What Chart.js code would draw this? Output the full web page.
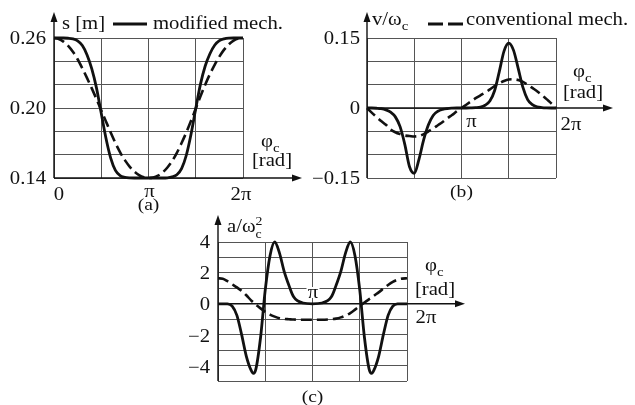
<!DOCTYPE html>
<html>
<head>
<meta charset="utf-8">
<script src="https://cdn.jsdelivr.net/npm/chart.js@4.4.1/dist/chart.umd.min.js"></script>
<style>
  html, body { margin: 0; background: #fff; }
  #wrap { position: relative; width: 635px; height: 405px; }
  canvas { position: absolute; left: 0; top: 0; }
</style>
</head>
<body>
<div id="wrap">
  <canvas id="chart-a" width="635" height="405"></canvas>
  <canvas id="chart-b" width="635" height="405"></canvas>
  <canvas id="chart-c" width="635" height="405"></canvas>
</div>
<script>
// crank angle phi_c, in units of pi
const PHI = [0, 0.05, 0.1, 0.15, 0.2, 0.25, 0.3, 0.35, 0.4, 0.45, 0.5, 0.55, 0.6, 0.65, 0.7, 0.75, 0.8, 0.85, 0.9, 0.95, 1,
             1.05, 1.1, 1.15, 1.2, 1.25, 1.3, 1.35, 1.4, 1.45, 1.5, 1.55, 1.6, 1.65, 1.7, 1.75, 1.8, 1.85, 1.9, 1.95, 2];

// (a) slider position s [m]
const S_MODIFIED = [0.26, 0.26, 0.26, 0.2598, 0.2592, 0.2575, 0.2535, 0.2455, 0.2335, 0.2170, 0.1955, 0.1740, 0.1570, 0.1465, 0.1420, 0.1406, 0.1401, 0.14, 0.14, 0.14, 0.14,
                    0.14, 0.14, 0.14, 0.1402, 0.1410, 0.1428, 0.1480, 0.1595, 0.1775, 0.1995, 0.2205, 0.2360, 0.2465, 0.2538, 0.2577, 0.2593, 0.2599, 0.26, 0.26, 0.26];
const S_CONVENTIONAL = [0.2600, 0.2592, 0.2569, 0.2532, 0.2482, 0.2418, 0.2340, 0.2256, 0.2168, 0.2076, 0.1980, 0.1885, 0.1790, 0.1700, 0.1620, 0.1553, 0.1498, 0.1456, 0.1425, 0.1406, 0.1400,
                        0.1405, 0.1420, 0.1448, 0.1490, 0.1545, 0.1615, 0.1700, 0.1790, 0.1890, 0.1995, 0.2100, 0.2200, 0.2290, 0.2370, 0.2440, 0.2500, 0.2545, 0.2577, 0.2595, 0.2600];

// (b) v / omega_c
const V_MODIFIED = [0, 0, -0.0005, -0.0015, -0.004, -0.009, -0.019, -0.040, -0.078, -0.126, -0.140, -0.110, -0.068, -0.036, -0.016, -0.007, -0.003, -0.0012, -0.0004, 0, 0,
                    0, 0.0003, 0.0008, 0.002, 0.006, 0.015, 0.037, 0.078, 0.122, 0.139, 0.124, 0.085, 0.044, 0.018, 0.007, 0.0025, 0.001, 0.0003, 0, 0];
const V_CONVENTIONAL = [0, -0.010, -0.019, -0.028, -0.036, -0.046, -0.052, -0.056, -0.059, -0.060, -0.061, -0.060, -0.056, -0.050, -0.044, -0.037, -0.030, -0.022, -0.015, -0.007, 0,
                        0.007, 0.014, 0.021, 0.027, 0.033, 0.040, 0.047, 0.053, 0.058, 0.061, 0.0615, 0.060, 0.056, 0.050, 0.043, 0.036, 0.028, 0.019, 0.010, 0];

// (c) a / omega_c^2, sampled a bit denser around the peaks
const PHI_ACC = [0, 0.05, 0.1, 0.15, 0.2, 0.25, 0.3, 0.35, 0.375, 0.4, 0.45, 0.5, 0.55, 0.6, 0.65, 0.7, 0.75, 0.8, 0.9, 1,
                 1.1, 1.2, 1.25, 1.3, 1.35, 1.4, 1.45, 1.5, 1.55, 1.6, 1.625, 1.65, 1.7, 1.75, 1.8, 1.85, 1.9, 1.95, 2];
const A_MODIFIED = [0, 0, 0, -0.15, -0.75, -2.0, -3.4, -4.3, -4.5, -4.25, -2.2, 0.9, 3.1, 4.0, 3.3, 2.1, 1.2, 0.45, 0.05, 0,
                    0.05, 0.45, 1.2, 2.1, 3.3, 4.0, 3.1, 0.9, -2.2, -4.25, -4.5, -4.3, -3.4, -2.0, -0.75, -0.15, 0, 0, 0];
const A_CONVENTIONAL = [1.65, 1.62, 1.46, 1.26, 1.06, 0.84, 0.55, 0.22, 0.08, -0.06, -0.30, -0.52, -0.70, -0.83, -0.93, -0.98, -1.0, -1.02, -1.03, -1.03,
                        -1.03, -1.0, -0.96, -0.88, -0.76, -0.60, -0.38, -0.14, 0.08, 0.30, 0.40, 0.52, 0.74, 0.98, 1.22, 1.42, 1.56, 1.63, 1.65];

const W = 635, H = 405;
const FONT = '"Liberation Serif", "Times New Roman", serif';
const SX = 1.15; // the scan is a little wider than tall
const INK = '#111';
const GRID = '#555';

function txt(ctx, s, x, y, align = 'left', size = 18) {
    ctx.save();
    ctx.font = size + 'px ' + FONT;
    ctx.fillStyle = INK;
    ctx.textAlign = align;
    ctx.textBaseline = 'alphabetic';
    ctx.translate(x, y);
    ctx.scale(SX, 1);
    ctx.fillText(s, 0, 0);
    const w = ctx.measureText(s).width * SX;
    ctx.restore();
    return w;
}

function arrow(ctx, x1, y1, x2, y2) {
    const ang = Math.atan2(y2 - y1, x2 - x1);
    ctx.save();
    ctx.strokeStyle = INK;
    ctx.fillStyle = INK;
    ctx.lineWidth = 1.4;
    ctx.beginPath();
    ctx.moveTo(x1, y1);
    ctx.lineTo(x2 - 8 * Math.cos(ang), y2 - 8 * Math.sin(ang));
    ctx.stroke();
    ctx.translate(x2, y2);
    ctx.rotate(ang);
    ctx.beginPath();
    ctx.moveTo(0, 0);
    ctx.lineTo(-10, -3.5);
    ctx.lineTo(-10, 3.5);
    ctx.closePath();
    ctx.fill();
    ctx.restore();
}

function legendLine(ctx, x1, x2, y, dash) {
    ctx.save();
    ctx.strokeStyle = INK;
    ctx.lineWidth = 2.8;
    ctx.setLineDash(dash);
    ctx.beginPath();
    ctx.moveTo(x1, y);
    ctx.lineTo(x2, y);
    ctx.stroke();
    ctx.restore();
}

// phi_c with subscript c
function phiLabel(ctx, x, y) {
    const w = txt(ctx, 'φ', x, y);
    txt(ctx, 'c', x + w, y + 5, 'left', 13);
}

function points(xs, ys) {
    return xs.map((x, i) => ({x: x, y: ys[i]}));
}

function makeChart(id, area, y, datasets, decorate) {
    return new Chart(document.getElementById(id), {
        type: 'line',
        data: {datasets: datasets},
        options: {
            responsive: false,
            animation: false,
            devicePixelRatio: 1,
            layout: {
                padding: {left: area.l, top: area.t, right: W - area.r, bottom: H - area.b}
            },
            elements: {point: {radius: 0}},
            plugins: {legend: {display: false}, tooltip: {enabled: false}},
            scales: {
                x: {
                    type: 'linear', min: 0, max: 2,
                    ticks: {display: false, stepSize: 0.5},
                    grid: {color: GRID, lineWidth: 1, drawTicks: false},
                    border: {display: false},
                    afterFit: s => { s.height = 0; }
                },
                y: {
                    type: 'linear', min: y.min, max: y.max,
                    ticks: {display: false, stepSize: y.step},
                    grid: {color: GRID, lineWidth: 1, drawTicks: false},
                    border: {display: false},
                    afterFit: s => { s.width = 0; }
                }
            }
        },
        plugins: [{id: 'decor-' + id, afterDraw: chart => decorate(chart, chart.ctx, chart.scales.x, chart.scales.y)}]
    });
}

function solid(data) {
    return {data: data, borderColor: INK, borderWidth: 2.8, cubicInterpolationMode: 'monotone', clip: false};
}

function dashed(data) {
    return {data: data, borderColor: INK, borderWidth: 2.6, borderDash: [11, 5], cubicInterpolationMode: 'monotone', clip: false};
}

// (a) displacement
makeChart('chart-a', {l: 54, t: 38, r: 243, b: 178}, {min: 0.14, max: 0.26, step: 0.02},
    [solid(points(PHI, S_MODIFIED)), dashed(points(PHI, S_CONVENTIONAL))],
    (chart, ctx, x, y) => {
        const x0 = x.getPixelForValue(0);
        const yb = y.getPixelForValue(0.14);
        arrow(ctx, x0, yb, 302, yb);
        arrow(ctx, x0, yb, x0, 12);
        for (const v of [0.26, 0.20, 0.14]) {
            txt(ctx, v.toFixed(2), x0 - 8, y.getPixelForValue(v) + 6, 'right');
        }
        txt(ctx, '0', x0 + 5, 200, 'center');
        txt(ctx, 'π', x.getPixelForValue(1) + 1, 197, 'center');
        txt(ctx, '2π', x.getPixelForValue(2) - 2, 200, 'center');
        txt(ctx, '(a)', x.getPixelForValue(1), 210, 'center', 17);
        txt(ctx, 's [m]', 62, 29);
        legendLine(ctx, 113, 147, 24, []);
        txt(ctx, 'modified mech.', 153, 29);
        phiLabel(ctx, 261, 147);
        txt(ctx, '[rad]', 272, 166, 'center');
    });

// (b) velocity
makeChart('chart-b', {l: 367, t: 38, r: 556, b: 178}, {min: -0.15, max: 0.15, step: 0.05},
    [solid(points(PHI, V_MODIFIED)), dashed(points(PHI, V_CONVENTIONAL))],
    (chart, ctx, x, y) => {
        const x0 = x.getPixelForValue(0);
        const y0 = y.getPixelForValue(0);
        arrow(ctx, x0, y0, 613, y0);
        arrow(ctx, x0, chart.chartArea.bottom, x0, 12);
        txt(ctx, '0.15', x0 - 7, y.getPixelForValue(0.15) + 6, 'right');
        txt(ctx, '0', x0 - 7, y0 + 6, 'right');
        txt(ctx, '−0.15', x0 - 7, y.getPixelForValue(-0.15) + 6, 'right');
        txt(ctx, 'π', x.getPixelForValue(1) + 10, 127, 'center');
        txt(ctx, '2π', x.getPixelForValue(2) + 15, 130, 'center');
        txt(ctx, '(b)', x.getPixelForValue(1), 197, 'center', 17);
        const w = txt(ctx, 'v/ω', 372, 25);
        txt(ctx, 'c', 372 + w, 30, 'left', 13);
        legendLine(ctx, 428, 463, 24, [15, 5]);
        txt(ctx, 'conventional mech.', 466, 25);
        phiLabel(ctx, 573, 77);
        txt(ctx, '[rad]', 583, 98, 'center');
    });

// (c) acceleration
makeChart('chart-c', {l: 218, t: 242, r: 407, b: 381}, {min: -5, max: 4, step: 1},
    [solid(points(PHI_ACC, A_MODIFIED)), dashed(points(PHI_ACC, A_CONVENTIONAL))],
    (chart, ctx, x, y) => {
        const x0 = x.getPixelForValue(0);
        const y0 = y.getPixelForValue(0);
        arrow(ctx, x0, y0, 465, y0);
        arrow(ctx, x0, chart.chartArea.bottom, x0, 215);
        for (const v of [4, 2, 0, -2, -4]) {
            const label = v < 0 ? '−' + Math.abs(v) : String(v);
            txt(ctx, label, x0 - 8, y.getPixelForValue(v) + (v < 0 ? 7 : 6), 'right');
        }
        const xp = x.getPixelForValue(1);
        ctx.fillStyle = '#fff';
        ctx.fillRect(xp - 6, 287, 13, 11);
        txt(ctx, 'π', xp + 0.5, 298, 'center');
        txt(ctx, '2π', x.getPixelForValue(2) + 19, 323, 'center');
        txt(ctx, '(c)', xp, 402, 'center', 17);
        const w = txt(ctx, 'a/ω', 227, 232);
        txt(ctx, '2', 227 + w, 225, 'left', 12);
        txt(ctx, 'c', 227 + w, 238, 'left', 12);
        phiLabel(ctx, 425, 271);
        txt(ctx, '[rad]', 435, 295, 'center');
    });
</script>
</body>
</html>
